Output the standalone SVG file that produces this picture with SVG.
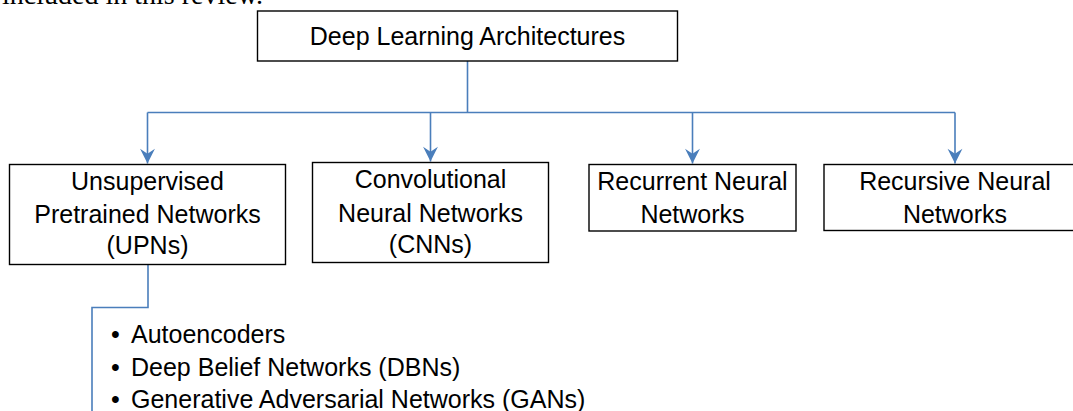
<svg xmlns="http://www.w3.org/2000/svg" width="1073" height="411" viewBox="0 0 1073 411">
<style>
.box{fill:#fff;stroke:#000;stroke-width:1.4}
.t{font-family:"Liberation Sans",Arial,sans-serif;font-size:25px;fill:#000;text-anchor:middle}
.b{font-family:"Liberation Sans",Arial,sans-serif;font-size:25px;fill:#000}
.c{fill:none;stroke:#4A7EBB;stroke-width:1.6}
.serif{font-family:"Liberation Serif","Times New Roman",serif;font-size:28px;fill:#000;text-anchor:end}
</style>
<defs>
<marker id="ah" markerUnits="userSpaceOnUse" markerWidth="16" markerHeight="16" viewBox="-13 -7 14 14" refX="0" refY="0" orient="auto" overflow="visible">
<path d="M0,0 L-13,-6.5 L-8.5,0 L-13,6.5 Z" fill="#4A7EBB"/>
</marker>
</defs>
<rect width="1073" height="411" fill="#fff"/>
<text class="serif" x="263" y="4">included in this review.</text>
<g id="connectors">
<path class="c" d="M467.5,61 V112.5"/>
<path class="c" d="M147.5,112.5 H955"/>
<path class="c" d="M147.5,112.5 V163.5" marker-end="url(#ah)"/>
<path class="c" d="M430.5,112.5 V161.5" marker-end="url(#ah)"/>
<path class="c" d="M692.5,112.5 V163.5" marker-end="url(#ah)"/>
<path class="c" d="M955,112.5 V163.5" marker-end="url(#ah)"/>
<path class="c" d="M148,264.5 V307.5 H92 V411"/>
</g>
<g id="root">
<rect class="box" x="257.5" y="11" width="420" height="50"/>
<text class="t" x="467.5" y="45">Deep Learning Architectures</text>
</g>
<g id="upn">
<rect class="box" x="9.5" y="164.5" width="276" height="100"/>
<text class="t" x="147.5" y="190">Unsupervised</text>
<text class="t" x="147.5" y="223">Pretrained Networks</text>
<text class="t" x="147.5" y="254">(UPNs)</text>
</g>
<g id="cnn">
<rect class="box" x="312.5" y="162.5" width="236" height="100"/>
<text class="t" x="430.5" y="188">Convolutional</text>
<text class="t" x="430.5" y="222">Neural Networks</text>
<text class="t" x="430.5" y="253">(CNNs)</text>
</g>
<g id="rnn">
<rect class="box" x="589" y="164.5" width="207" height="66.5"/>
<text class="t" x="692.5" y="190">Recurrent Neural</text>
<text class="t" x="692.5" y="223">Networks</text>
</g>
<g id="recursive">
<rect class="box" x="824" y="164.5" width="260" height="66"/>
<text class="t" x="955" y="190">Recursive Neural</text>
<text class="t" x="955" y="223">Networks</text>
</g>
<g id="upn-list">
<text class="b" x="111" y="343">•</text>
<text class="b" x="131" y="343">Autoencoders</text>
<text class="b" x="111" y="376">•</text>
<text class="b" x="131" y="376">Deep Belief Networks (DBNs)</text>
<text class="b" x="111" y="408">•</text>
<text class="b" x="131" y="408">Generative Adversarial Networks (GANs)</text>
</g>
</svg>
